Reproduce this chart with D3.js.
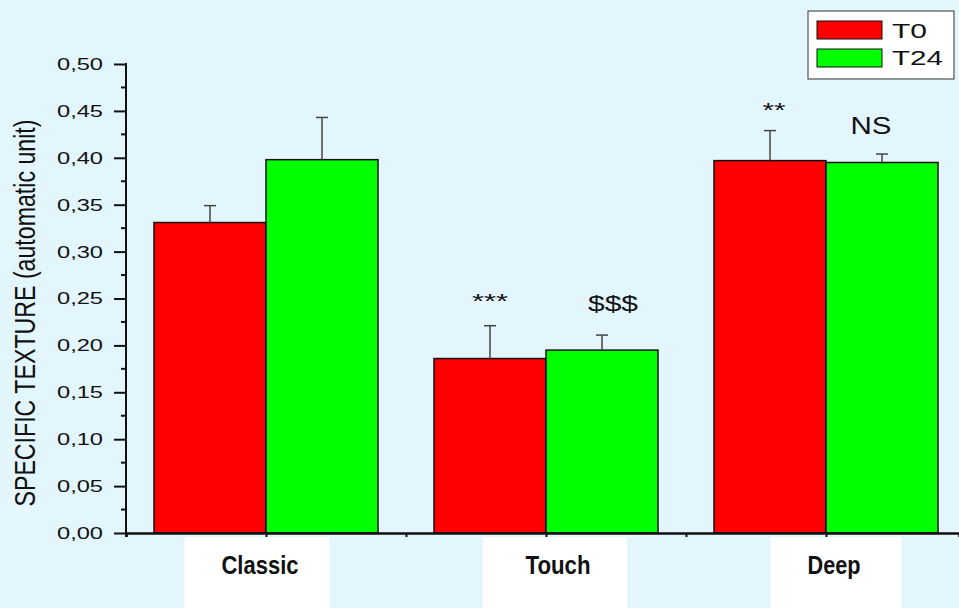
<!DOCTYPE html>
<html>
<head>
<meta charset="utf-8">
<script src="https://cdn.jsdelivr.net/npm/d3@7"></script>
<style>
  html, body { margin: 0; padding: 0; background: #e4f6fd; }
  svg { display: block; font-family: "Liberation Sans", Arial, sans-serif; }
</style>
</head>
<body>
<div id="chart"></div>
<script>
// Specific texture by massage type, T0 vs T24
var categories = ["Classic", "Touch", "Deep"];
var seriesNames = ["T0", "T24"];
var t0Values = [0.331, 0.186, 0.397];
var t0Errors = [0.018, 0.035, 0.032];
var t24Values = [0.398, 0.195, 0.395];
var t24Errors = [0.045, 0.016, 0.009];
// significance marks: [category index, series index, text, value level]
var marks = [
  [1, 0, "***", 0.240],
  [1, 1, "$$$", 0.237],
  [2, 0, "**", 0.443],
  [2, 1, "NS", 0.425]
];
var yTicks = [0, 0.05, 0.10, 0.15, 0.20, 0.25, 0.30, 0.35, 0.40, 0.45, 0.50];

var width = 959, height = 608;
var colors = ["#ff0000", "#00ff00"];

var svg = d3.select("#chart").append("svg")
  .attr("width", width).attr("height", height);

svg.append("rect").attr("width", width).attr("height", height).attr("fill", "#e4f6fd");

// categories sit at 1, 2, 3 on a linear axis, ticks every half unit
var x = d3.scaleLinear().domain([0.5, 0.5 + (959 - 126) / 280]).range([126, 959]);
var y = d3.scaleLinear().domain([0, 0.5]).range([533, 64]);
var barW = x(1.4) - x(1);

var series = [
  { name: seriesNames[0], values: t0Values, errors: t0Errors },
  { name: seriesNames[1], values: t24Values, errors: t24Errors }
];

// bars
series.forEach(function (s, si) {
  var g = svg.append("g");
  g.selectAll("rect")
    .data(s.values)
    .join("rect")
    .attr("x", function (d, i) { return si === 0 ? x(i + 1) - barW : x(i + 1); })
    .attr("y", function (d) { return y(d); })
    .attr("width", barW)
    .attr("height", function (d) { return y(0) - y(d); })
    .attr("fill", colors[si])
    .attr("stroke", "#111")
    .attr("stroke-width", 1.5);

  // error bars (upper half only)
  var eg = svg.append("g").attr("stroke", "#444").attr("stroke-width", 1.5);
  s.values.forEach(function (v, i) {
    var cx = (si === 0 ? x(i + 1) - barW / 2 : x(i + 1) + barW / 2);
    eg.append("line").attr("x1", cx).attr("x2", cx)
      .attr("y1", y(v)).attr("y2", y(v + s.errors[i]));
    eg.append("line").attr("x1", cx - 6).attr("x2", cx + 6)
      .attr("y1", y(v + s.errors[i])).attr("y2", y(v + s.errors[i]));
  });
});

// y axis
var fmt = function (d) { return d3.format(".2f")(d).replace(".", ","); };
var yAxis = svg.append("g").attr("transform", "translate(126,0)")
  .call(d3.axisLeft(y).tickValues(yTicks).tickSize(12).tickPadding(11).tickFormat(fmt));
yAxis.select(".domain").remove();
yAxis.selectAll(".tick line").attr("stroke", "#111").attr("stroke-width", 2);
yAxis.selectAll(".tick text")
  .attr("font-size", 17).attr("fill", "#111")
  .attr("font-family", "Liberation Sans, Arial, sans-serif")
  .attr("textLength", 46).attr("lengthAdjust", "spacingAndGlyphs");
// minor ticks
svg.append("g").selectAll("line")
  .data(d3.range(0.025, 0.5, 0.05))
  .join("line")
  .attr("x1", 121).attr("x2", 126)
  .attr("y1", function (d) { return y(d); }).attr("y2", function (d) { return y(d); })
  .attr("stroke", "#111").attr("stroke-width", 2);
svg.append("line").attr("x1", 126).attr("x2", 126).attr("y1", y(0.5) - 1).attr("y2", y(0) + 4)
  .attr("stroke", "#111").attr("stroke-width", 2);

// x axis
var xAxis = svg.append("g").attr("transform", "translate(0,533)")
  .call(d3.axisBottom(x).tickValues([0.5, 1, 1.5, 2, 2.5, 3]).tickSize(4).tickFormat(""));
xAxis.select(".domain").attr("stroke", "#111").attr("stroke-width", 2.5);
xAxis.selectAll(".tick line").attr("stroke", "#111").attr("stroke-width", 2);

// category label boxes and labels
var labelShift = [-6, 12, 8];
var boxWidths = [145, 144, 131];
var boxShift = [-3, -3, 2];
var labelWidths = [77, 65, 53];
categories.forEach(function (c, i) {
  var lx = x(i + 1) + labelShift[i];
  svg.append("rect")
    .attr("x", lx + boxShift[i] - boxWidths[i] / 2).attr("y", 537)
    .attr("width", boxWidths[i]).attr("height", height - 537)
    .attr("fill", "#ffffff");
  svg.append("text")
    .attr("x", lx).attr("y", 574)
    .attr("text-anchor", "middle")
    .attr("font-size", 26).attr("font-weight", "bold").attr("fill", "#111")
    .attr("textLength", labelWidths[i]).attr("lengthAdjust", "spacingAndGlyphs")
    .text(c);
});

// significance marks
var markWidths = { "***": 36, "$$$": 50, "**": 23, "NS": 41 };
var markSizes = { "***": 20, "$$$": 22, "**": 20, "NS": 24 };
var markShift = { "***": 0, "$$$": 11, "**": 4, "NS": -11 };
marks.forEach(function (m) {
  var cx = m[1] === 0 ? x(m[0] + 1) - barW / 2 : x(m[0] + 1) + barW / 2;
  svg.append("text")
    .attr("x", cx + markShift[m[2]]).attr("y", y(m[3]))
    .attr("text-anchor", "middle")
    .attr("font-size", markSizes[m[2]]).attr("fill", "#111")
    .attr("textLength", markWidths[m[2]]).attr("lengthAdjust", "spacingAndGlyphs")
    .text(m[2]);
});

// y axis title
svg.append("text")
  .attr("transform", "translate(24,313) scale(1.5,1) rotate(-90)")
  .attr("y", 7)
  .attr("text-anchor", "middle")
  .attr("font-size", 20).attr("fill", "#111")
  .attr("textLength", 387).attr("lengthAdjust", "spacingAndGlyphs")
  .text("SPECIFIC TEXTURE (automatic unit)");

// legend
var legend = svg.append("g");
legend.append("rect").attr("x", 808).attr("y", 11).attr("width", 146).attr("height", 68)
  .attr("fill", "#ffffff").attr("stroke", "#333").attr("stroke-width", 1);
var legendWidths = [35, 51];
seriesNames.forEach(function (n, i) {
  legend.append("rect").attr("x", 817).attr("y", 21 + i * 28).attr("width", 65).attr("height", 18)
    .attr("fill", colors[i]).attr("stroke", "#111").attr("stroke-width", 1);
  legend.append("text").attr("x", 892).attr("y", 38 + i * 27)
    .attr("font-size", 20).attr("fill", "#111")
    .attr("textLength", legendWidths[i]).attr("lengthAdjust", "spacingAndGlyphs")
    .text(n);
});
</script>
</body>
</html>
